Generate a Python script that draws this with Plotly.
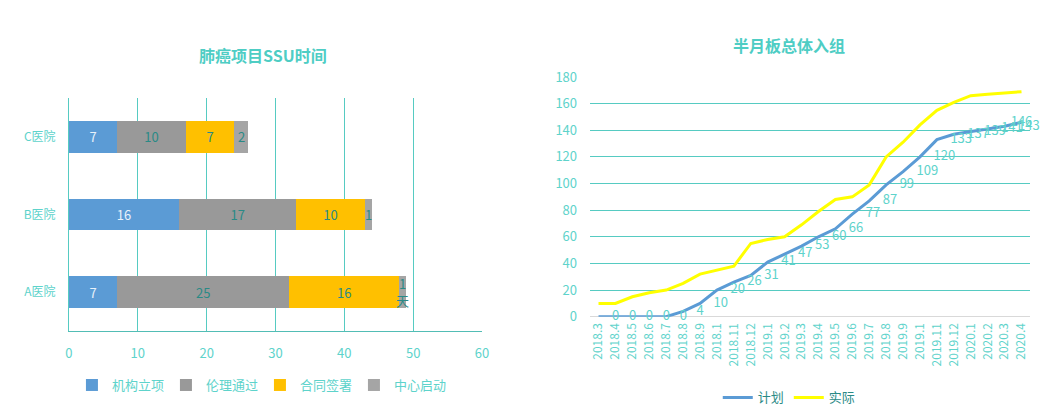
import plotly.graph_objects as go

# left chart: SSU time per hospital (days)
hospitals = ['A医院', 'B医院', 'C医院']
stages = ['机构立项', '伦理通过', '合同签署', '中心启动']
stage_vals = [
    [7, 16, 7],
    [25, 17, 10],
    [16, 10, 7],
    [1, 1, 2],
]
stage_text = [
    ['7', '16', '7'],
    ['25', '17', '10'],
    ['16', '10', '7'],
    ['1<br>天', '1', '2'],
]
stage_colors = ['#5B9BD5', '#999999', '#FFC000', '#A5A5A5']

# right chart: enrolment, plan vs actual
months = ['2018.3', '2018.4', '2018.5', '2018.6', '2018.7', '2018.8', '2018.9', '2018.1',
          '2018.11', '2018.12', '2019.1', '2019.2', '2019.3', '2019.4', '2019.5', '2019.6',
          '2019.7', '2019.8', '2019.9', '2019.1', '2019.11', '2019.12', '2020.1', '2020.2',
          '2020.3', '2020.4']
plan = [0, 0, 0, 0, 0, 4, 10, 20, 26, 31, 41, 47, 53, 60, 66, 77, 87, 99, 109, 120,
        133, 137, 139, 141, 143, 146]
actual = [10, 10, 15, 18, 20, 25, 32, 35, 38, 55, 58, 60, 69, 79, 88, 90, 99, 120, 131,
          144, 155, 161, 166, 167, 168, 169]

teal = '#5ED3CB'
dark_teal = '#2A8A86'
grid = '#56CBC2'
font = 'Noto Sans CJK SC'

fig = go.Figure()

for i, s in enumerate(stages):
    last = i == len(stages) - 1
    fig.add_trace(go.Bar(
        y=hospitals, x=stage_vals[i], name=s, orientation='h',
        marker=dict(color=stage_colors[i], line=dict(width=0)),
        text=stage_text[i], textposition='none' if last else 'inside',
        insidetextanchor='middle',
        textfont=dict(color='#E8F1FA' if i == 0 else dark_teal, size=13, family=font),
        xaxis='x', yaxis='y', legend='legend', hoverinfo='x+y+name'))

# labels of the thin last segment, centred on it
bar_labels = []
for j, h in enumerate(hospitals):
    start = sum(stage_vals[k][j] for k in range(len(stages) - 1))
    v = stage_vals[-1][j]
    bar_labels.append(dict(x=start + v / 2, y=h, xref='x', yref='y', text=stage_text[-1][j],
                           showarrow=False, font=dict(color=dark_teal, size=13)))

idx = list(range(len(months)))
# last label sits on its point (no room on the right)
label_pos = ['middle right'] * (len(plan) - 1) + ['middle center']
fig.add_trace(go.Scatter(
    x=idx, y=plan, name='计划', mode='lines+markers+text', text=[str(v) for v in plan],
    textposition=label_pos, textfont=dict(color=teal, size=13, family=font),
    marker=dict(size=20, color='rgba(0,0,0,0)'),
    line=dict(color='#5B9BD5', width=3), xaxis='x2', yaxis='y2', legend='legend2',
    cliponaxis=False))
fig.add_trace(go.Scatter(
    x=idx, y=actual, name='实际', mode='lines',
    line=dict(color='#FFFF00', width=3), xaxis='x2', yaxis='y2', legend='legend2'))

fig.update_layout(
    width=1058, height=414, margin=dict(l=0, r=0, t=0, b=0, autoexpand=False),
    paper_bgcolor='white', plot_bgcolor='white',
    font=dict(family=font, color=teal, size=12),
    barmode='stack', bargap=0.59,
    xaxis=dict(domain=[0.0652, 0.4556], range=[0, 60], dtick=10, showgrid=True,
               gridcolor=grid, gridwidth=1, showline=True, linecolor='#52BDB5',
               zeroline=False, ticks='', ticklabelstandoff=10, automargin=False,
               tickfont=dict(color=teal, size=13), fixedrange=True),
    yaxis=dict(domain=[0.2005, 0.7633], anchor='x', showgrid=False, zeroline=False,
               showline=True, linecolor=grid, ticks='', ticklabelstandoff=10,
               automargin=False, tickfont=dict(color=teal, size=12)),
    xaxis2=dict(domain=[0.5577, 0.9735], range=[-0.5, len(months) - 0.5],
                tickmode='array', tickvals=idx, ticktext=months, tickangle=-90,
                showgrid=False, zeroline=False, showline=False, ticks='',
                anchor='y2', automargin=False, ticklabelstandoff=3,
                tickfont=dict(color=teal, size=12)),
    yaxis2=dict(domain=[0.235, 0.814], range=[0, 180], dtick=20, anchor='x2',
                showgrid=True, gridcolor=grid, zeroline=True, zerolinecolor='#D9D9D9',
                zerolinewidth=1, ticks='', ticklabelstandoff=12, automargin=False,
                tickfont=dict(color=teal, size=13)),
    legend=dict(orientation='h', x=0.068, y=0.07, xanchor='left', yanchor='middle',
                font=dict(color=teal, size=13), traceorder='normal',
                itemwidth=30, entrywidth=49, bgcolor='rgba(0,0,0,0)'),
    legend2=dict(orientation='h', x=0.746, y=0.04, xanchor='center', yanchor='middle',
                 font=dict(color=dark_teal, size=13), bgcolor='rgba(0,0,0,0)'),
    annotations=bar_labels + [
        dict(text='<b>肺癌项目SSU时间</b>', x=0.2486, y=1 - 55 / 414, xref='paper',
             yref='paper', xanchor='center', yanchor='middle', showarrow=False,
             font=dict(color='#4ECDC4', size=16)),
        dict(text='<b>半月板总体入组</b>', x=0.7457, y=1 - 45 / 414, xref='paper',
             yref='paper', xanchor='center', yanchor='middle', showarrow=False,
             font=dict(color='#4ECDC4', size=16)),
    ],
)

fig.write_html('out.html', config={'displayModeBar': False},
               post_script="document.body.style.margin='0px';")
